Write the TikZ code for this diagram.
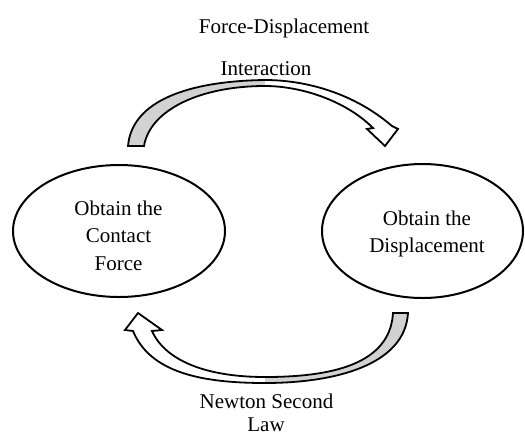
\documentclass[tikz,border=0pt]{standalone}
\usepackage{fontspec}
\setmainfont{Liberation Serif}
\usetikzlibrary{shapes.geometric}
\begin{document}
\begin{tikzpicture}[x=0.5pt,y=-0.5pt,
  ell/.style={draw=black,line width=1pt,ellipse,inner sep=0pt,outer sep=0pt,fill=white},
  txt/.style={font=\fontsize{10.5}{13.5}\selectfont,align=center,inner sep=0pt,anchor=base},
  band/.style={draw=black,line width=0.9pt,line join=miter},
  shadefill/.style={fill=gray!35}]
\useasboundingbox (0,0) rectangle (525,435);
% ellipses
\node[ell,minimum width=106pt,minimum height=66pt] (cf) at (119,231) {};
\node[ell,minimum width=100.5pt,minimum height=67pt] (dp) at (422.5,231) {};
\node[txt] (cft1) at (118.5,215) {Obtain the};
\node[txt] (cft2) at (118.5,242) {Contact};
\node[txt] (cft3) at (118.5,270) {Force};
\node[txt] (dpt1) at (427,225) {Obtain the};
\node[txt] (dpt2) at (427,252) {Displacement};
% labels
\node[txt] (l1) at (284,33) {Force-Displacement};
\node[txt] (l2) at (266,75) {Interaction};
\node[txt] (l3) at (266.5,408) {Newton Second};
\node[txt] (l4) at (266,431) {Law};
% top arrow
\def\toparrow{(128,146) .. controls (132,100) and (190,81) .. (265,80) .. controls (300,80) and (350,90) .. (392,126) -- (398,129) -- (385,146) -- (367,129) -- (373,128) .. controls (345,100) and (300,86) .. (265,86) .. controls (200,86) and (150,110) .. (144,146) -- cycle}
\fill[white] \toparrow;
\begin{scope}
  \clip (0,0) rectangle (265,200);
  \fill[shadefill] \toparrow;
\end{scope}
\draw[band] \toparrow;
% bottom arrow
\def\botarrow{(133,331) .. controls (150,372) and (200,383) .. (265,383) .. controls (335,383) and (405,365) .. (408,313) -- (393,313) .. controls (390,365) and (330,377) .. (265,377) .. controls (205,377) and (165,360) .. (152,331) -- (162,330) -- (138,313) -- (125,330) -- cycle}
\fill[white] \botarrow;
\begin{scope}
  \clip (265,300) rectangle (525,400);
  \fill[shadefill] \botarrow;
\end{scope}
\draw[band] \botarrow;
\end{tikzpicture}
\end{document}
